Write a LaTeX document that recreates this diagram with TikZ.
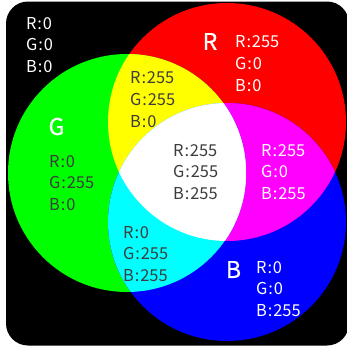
\documentclass[tikz,border=0pt]{standalone}
\usepackage{fontspec}
\setmainfont{Noto Sans CJK SC}
\newfontfamily\bigfont[FakeBold=0.6]{Noto Sans CJK SC}
\definecolor{darktxt}{HTML}{3C3C3C}
\definecolor{pR}{RGB}{255,0,0}
\definecolor{pG}{RGB}{0,255,0}
\definecolor{pB}{RGB}{0,0,255}
\definecolor{pY}{RGB}{255,255,0}
\definecolor{pM}{RGB}{255,0,255}
\definecolor{pC}{RGB}{0,255,255}
\newcommand{\cl}{\kern0.9pt:\kern0.9pt}
\tikzset{
  vals/.style={anchor=north west, inner sep=0pt, align=left,
    font=\fontsize{16.4}{21.7}\selectfont},
  darkvals/.style={vals, text=darktxt},
  lightvals/.style={vals, text=white},
  bigletter/.style={inner sep=0pt, text=white, font=\bigfont\fontsize{23}{23}\selectfont},
}
\begin{document}
\begin{tikzpicture}[x=1pt,y=-1pt]
\useasboundingbox (0,0) rectangle (347,348);
\coordinate (cR) at (227,122);
\coordinate (cG) at (127,173);
\coordinate (cB) at (227,222);
\def\rad{119pt}
\fill[black, rounded corners=22pt] (6,1.5) rectangle (349,345.5);
\begin{scope}
  \clip[rounded corners=22pt] (6,1.5) rectangle (349,345.5);
  \fill[pR] (cR) circle[radius=\rad];
  \fill[pG] (cG) circle[radius=\rad];
  \fill[pB] (cB) circle[radius=\rad];
  \begin{scope}
    \clip (cR) circle[radius=\rad];
    \fill[pY] (cG) circle[radius=\rad];
    \fill[pM] (cB) circle[radius=\rad];
    \clip (cG) circle[radius=\rad];
    \fill[white] (cB) circle[radius=\rad];
  \end{scope}
  \begin{scope}
    \clip (cG) circle[radius=\rad];
    \clip (cB) circle[radius=\rad];
    \fill[pC] (cB) circle[radius=\rad];
    \clip (cR) circle[radius=\rad];
    \fill[white] (cR) circle[radius=\rad];
  \end{scope}
\end{scope}
% big letters
\node[bigletter] (LR) at (210,41.5) {R};
\node[bigletter] (LG) at (56.5,126.5) {G};
\node[bigletter] (LB) at (233.5,269.5) {B};
% value blocks
\node[lightvals] (tK) at (26,17) {R\cl0\\G\cl0\\B\cl0};
\node[lightvals] (tR) at (235,35.5) {R\cl255\\G\cl0\\B\cl0};
\node[darkvals] (tY) at (130,71.5) {R\cl255\\G\cl255\\B\cl0};
\node[darkvals] (tG) at (49,155) {R\cl0\\G\cl255\\B\cl0};
\node[darkvals] (tW) at (173,144) {R\cl255\\G\cl255\\B\cl255};
\node[lightvals] (tM) at (261,144) {R\cl255\\G\cl0\\B\cl255};
\node[darkvals] (tC) at (123,226) {R\cl0\\G\cl255\\B\cl255};
\node[lightvals] (tB) at (256,261) {R\cl0\\G\cl0\\B\cl255};
\end{tikzpicture}
\end{document}
